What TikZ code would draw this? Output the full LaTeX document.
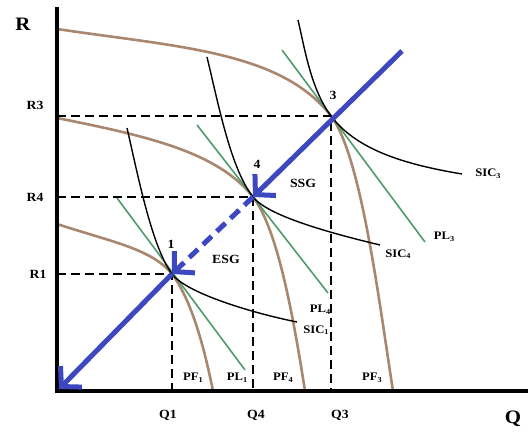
\documentclass[tikz,border=0pt]{standalone}
\usepackage{fontspec}
\setmainfont{Liberation Serif}[FakeStretch=1.1]
\usepackage{tikz}
\usetikzlibrary{arrows.meta}
\definecolor{pfbrown}{HTML}{A8876E}
\definecolor{plgreen}{HTML}{4F9A6C}
\definecolor{pathblue}{HTML}{3D47BF}
\newcommand\lsub[1]{\raisebox{-0.3ex}{\fontsize{7.5}{7.5}\selectfont #1}}

\begin{document}
\begin{tikzpicture}[
  x=1pt, y=1pt,
  axisline/.style={line width=4pt, line join=miter},
  guide/.style={line width=1.5pt, dash pattern=on 9pt off 5pt},
  pf/.style={draw=pfbrown, line width=2.6pt},
  pl/.style={draw=plgreen, line width=1.6pt},
  sic/.style={draw=black, line width=1.4pt},
  growth/.style={draw=pathblue, line width=5pt,
                 -{Straight Barb[length=14pt, width=30pt]}},
  lbl/.style={font=\fontsize{12.5}{12.5}\selectfont\bfseries, inner sep=1pt},
  tag/.style={font=\fontsize{11.5}{11.5}\selectfont\bfseries, inner sep=1pt},
  axisname/.style={font=\fontsize{19}{19}\selectfont\bfseries},
]
\useasboundingbox (-57,-42) rectangle (471,391);

% equilibrium points
\coordinate (o) at (0,0);
\coordinate (p1) at (115,117);
\coordinate (p4) at (196,194);
\coordinate (p3) at (274,275);
\coordinate (gtop) at (345,340);
\coordinate (gend) at (2,2);

% production frontiers
\draw[pf] (0,362) .. controls (120,344) and (224,340) .. (p3)
          .. controls (304,236) and (322,90) .. (336,0);
\draw[pf] (0,273) .. controls (90,255) and (161,239) .. (p4)
          .. controls (221,162) and (237,70) .. (248,0);
\draw[pf] (0,167) .. controls (55,149) and (95,142) .. (p1)
          .. controls (133,93) and (146,50) .. (156,0);

% price lines
\draw[pl] (p3) ++(-49,66) -- ++(143,-192);
\draw[pl] (p4) ++(-56,72) -- ++(131,-168);
\draw[pl] (p1) ++(-55,76) -- ++(128,-172);

% indifference curves
\draw[sic] (241,371) .. controls (248,341) and (254,302) .. (p3)
           .. controls (299,242) and (345,227) .. (405,217);
\draw[sic] (150,334) .. controls (162,284) and (174,222) .. (p4)
           .. controls (211,175) and (273,158) .. (323,146);
\draw[sic] (70,263) .. controls (81.5,213) and (95,144) .. (p1)
           .. controls (129,98) and (195,78) .. (240,69);

% dashed guides to the axes
\draw[guide] (p3 -| o) -- (p3) -- (p3 |- o);
\draw[guide] (p4 -| o) -- (p4) -- (p4 |- o);
\draw[guide] (p1 -| o) -- (p1) -- (p1 |- o);

% axes
\draw[axisline] (0,384) -- (o) -- (471,0);

% growth path
\draw[growth] (gtop) -- (p4);
\draw[growth, dash pattern=on 12pt off 7pt] (p4) -- (p1);
\draw[growth] (p1) -- (gend);

% labels
\node[axisname] (rname) at (-34,367) {R};
\node[axisname] (qname) at (456,-28) {Q};
\node[lbl] (r3) at (-22,286) {R3};
\node[lbl] (r4) at (-22,194) {R4};
\node[lbl] (r1) at (-19,117) {R1};
\node[lbl] (q1) at (111,-24) {Q1};
\node[lbl] (q4) at (199,-24) {Q4};
\node[lbl] (q3) at (283,-24) {Q3};
\node[lbl] (n3) at (276,296) {3};
\node[lbl] (n4) at (200,227) {4};
\node[lbl] (n1) at (114,147) {1};
\node[lbl] (ssg) at (246,208) {SSG};
\node[lbl] (esg) at (169,132) {ESG};
\node[tag] (sic3) at (431,217) {SIC\lsub{3}};
\node[tag] (sic4) at (341,137) {SIC\lsub{4}};
\node[tag] (sic1) at (259,61) {SIC\lsub{1}};
\node[tag] (pl3) at (387,154) {PL\lsub{3}};
\node[tag] (pl4) at (263,81) {PL\lsub{4}};
\node[tag] (pl1) at (180,13) {PL\lsub{1}};
\node[tag] (pf1) at (136,13) {PF\lsub{1}};
\node[tag] (pf4) at (226,13) {PF\lsub{4}};
\node[tag] (pf3) at (315,13) {PF\lsub{3}};

\end{tikzpicture}
\end{document}
